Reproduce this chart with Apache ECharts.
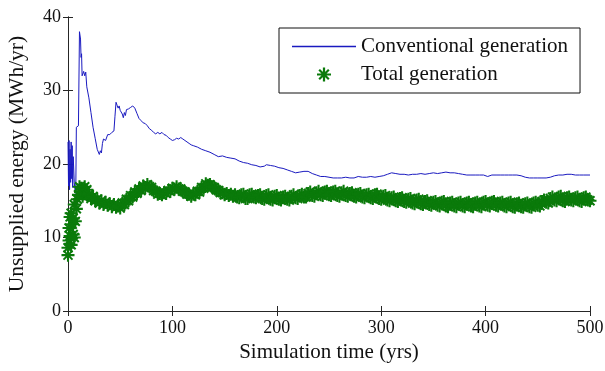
<!DOCTYPE html>
<html>
<head>
<meta charset="utf-8">
<script src="https://cdn.jsdelivr.net/npm/echarts@6/dist/echarts.min.js"></script>
<style>html,body{margin:0;padding:0;background:#fff;}#c{width:605px;height:371px;}</style>
</head>
<body>
<div id="c"></div>
<script>
// Conventional generation (blue line)
var convYears = [0,0.5,1,1.5,2,2.5,3,3.5,4,4.5,5,6,7,7.5,8,10,11,12,12.5,13,13.5,14,15,16,17,18,20,22,24,26,28,30,31,32,33,34,36,38,40,42,44,45,46,47,48,49,50,51,52,53,54,55,56,58,60,62,64,66,68,70,72,74,76,78,80,82,84,86,88,90,92,94,96,98,100,102,104,106,108,110,112,114,116,118,120,124,128,132,136,140,144,148,152,156,160,164,168,172,176,180,184,188,190,194,198,202,206,210,214,218,222,226,230,234,238,242,246,250,254,258,262,266,270,274,278,282,286,290,294,298,302,306,310,314,318,322,326,330,334,338,342,346,350,354,358,362,366,370,374,378,382,386,390,394,398,402,406,410,414,418,422,426,430,434,438,442,446,450,454,458,462,466,470,474,478,482,486,490,494,500];
var convGen = [23,17,23.2,16.5,22,17.5,23,18,22.5,16.8,21,17.5,16,17,25,25.2,38,37,34.5,35,32,31.8,32.6,32,32.5,30.5,29,27,25,23.5,22,21.3,21.8,21.5,22.8,23.4,23.2,24,24,24.3,24.5,26.5,28.4,28,27.6,27.9,27.3,27.5,26.8,26.3,27,26.6,27.4,27.5,27.7,27.9,27.6,26.9,26.2,25.9,25.6,25.5,25.2,24.8,24.6,24.3,24.1,24.3,24.1,24.3,24,23.9,23.6,23.4,23.2,23.3,23.5,23.4,23.6,23.4,23.2,23.0,22.8,22.6,22.5,22.3,22.0,21.8,21.6,21.3,21.0,21.1,20.9,20.8,20.7,20.4,20.2,20.1,19.9,19.8,19.6,19.7,19.9,19.8,19.7,19.5,19.4,19.2,19.0,18.8,18.9,19.0,19.0,18.7,18.5,18.3,18.3,18.2,18.1,18.1,18.1,18.2,18.1,18.1,18.3,18.2,18.2,18.3,18.2,18.3,18.4,18.6,18.8,18.7,18.6,18.6,18.5,18.6,18.6,18.7,18.6,18.7,18.8,18.7,18.8,18.9,18.8,18.8,18.7,18.6,18.5,18.5,18.5,18.5,18.5,18.3,18.5,18.5,18.5,18.5,18.5,18.5,18.5,18.4,18.2,18.1,18.1,18.1,18.1,18.1,18.2,18.4,18.5,18.5,18.6,18.6,18.5,18.5,18.5,18.5];
// Total generation (green asterisks)
var totalYears = [0,0,1,1,2,2,3,3,4,5,5,6,6,7,8,9,10,11,12,13,14,15,16,17,18,19,
  20,22,24,26,28,30,32,34,36,38,40,42,44,46,48,50,52,54,56,58,60,62,64,66,68,70,72,74,76,78,80,82,84,86,88,90,92,94,96,98,100,102,104,106,108,110,112,114,116,118,120,122,124,126,128,130,132,134,136,138,140,142,144,146,148,150,152,154,156,158,160,
  162,164,166,168,170,172,174,176,178,180,
  182,184,186,188,190,192,194,196,198,200,
  202,204,206,208,210,212,214,216,218,220,
  222,224,226,228,230,232,234,236,238,240,
  242,244,246,248,250,252,254,256,258,260,
  262,264,266,268,270,272,274,276,278,280,
  282,284,286,288,290,292,294,296,298,300,
  302,304,306,308,310,312,314,316,318,320,
  322,324,326,328,330,332,334,336,338,340,
  342,344,346,348,350,352,354,356,358,360,
  362,364,366,368,370,372,374,376,378,380,
  382,384,386,388,390,392,394,396,398,400,
  402,404,406,408,410,412,414,416,418,420,
  422,424,426,428,430,432,434,436,438,440,
  442,444,446,448,450,452,454,456,458,460,
  462,464,466,468,470,472,474,476,478,480,
  482,484,486,488,490,492,494,496,498,500];
var totalGen = [7.6,8.6,9.6,11.3,12.8,10.2,13.3,9.0,11.8,10.4,12.6,14.5,10.0,12.2,13.9,15.2,15.8,16.9,16.2,16.7,15.6,16.3,16.9,16.0,16.5,15.7,
  15.9,15.3,15.6,15.0,15.2,14.7,15.0,14.5,14.8,14.4,
  14.6,14.2,14.5,14.1,14.3,14.0,14.7,14.5,15.2,15.0,
  15.7,15.5,16.2,16.0,16.6,16.4,17.0,16.8,17.2,16.9,
  16.8,16.4,16.3,15.9,16.0,15.8,16.1,16.0,16.4,16.3,
  16.7,16.6,16.9,16.6,16.6,16.3,16.2,15.9,15.9,15.6,
  15.9,15.8,16.3,16.2,16.8,16.7,17.3,17.1,17.2,16.9,
  16.8,16.5,16.4,16.1,16.1,15.8,16.0,15.7,15.9,15.6,
  15.8,
  15.5,15.4,15.8,15.9,15.3,15.3,15.8,15.9,15.5,15.4,
  15.7,15.8,15.3,15.2,15.7,15.8,15.2,15.1,15.6,15.7,
  15.2,15.1,15.5,15.6,15.2,15.1,15.6,15.8,15.4,15.3,
  15.7,15.9,15.5,15.5,16.0,16.2,15.7,15.6,16.1,16.3,
  15.8,15.7,16.2,16.3,15.8,15.7,16.2,16.3,15.7,15.6,
  16.1,16.3,15.7,15.6,16.0,16.1,15.6,15.5,15.9,16.0,
  15.5,15.4,15.8,15.9,15.4,15.3,15.8,15.9,15.3,15.2,
  15.6,15.7,15.1,15.0,15.4,15.5,15.0,14.9,15.3,15.4,
  14.9,14.8,15.2,15.3,14.7,14.6,15.1,15.2,14.6,14.5,
  14.9,15.0,14.5,14.4,14.8,14.9,14.4,14.3,14.8,14.9,
  14.3,14.2,14.7,14.8,14.3,14.2,14.7,14.8,14.3,14.2,
  14.7,14.8,14.3,14.2,14.7,14.8,14.3,14.2,14.8,14.9,
  14.4,14.3,14.8,14.9,14.4,14.3,14.7,14.8,14.3,14.2,
  14.7,14.8,14.2,14.1,14.6,14.7,14.2,14.1,14.6,14.7,
  14.2,14.1,14.7,14.8,14.4,14.3,14.9,15.1,14.8,14.7,
  15.3,15.5,15.1,15.0,15.5,15.6,15.0,14.9,15.4,15.5,
  15.1,15.0,15.4,15.5,15.0,14.9,15.4,15.5,15.1,15.0];
var xTicks = [0,100,200,300,400,500];
var yTicks = [0,10,20,30,40];

var convData = convYears.map(function(x,i){return [x, convGen[i]];});
var totalData = totalYears.map(function(x,i){return [x, totalGen[i]];});

var FONT = 'Liberation Serif';
var AX = '#262626';
var star = 'path://M8.4,0L11.6,0L11.6,20L8.4,20Z M0,8.4L20,8.4L20,11.6L0,11.6Z M2,4.2L4.2,2L18,15.8L15.8,18Z M15.8,2L18,4.2L4.2,18L2,15.8Z';
var lineIcon = 'path://M0,0L64,0L64,1.3L0,1.3Z';

var chart = echarts.init(document.getElementById('c'), null, {renderer:'canvas'});
var tickStyle = {show:true, inside:true, length:5, lineStyle:{color:AX, width:1}};
chart.setOption({
  animation:false,
  backgroundColor:'#fff',
  grid:{left:68, top:17, right:15, bottom:60, show:false, containLabel:false, outerBoundsMode:'none'},
  legend:{
    left:279, top:28, orient:'vertical',
    itemWidth:64, itemHeight:14, itemGap:7,
    padding:[8,12,8,13],
    borderColor:'#111', borderWidth:1, backgroundColor:'#fff',
    textStyle:{fontFamily:FONT, fontSize:21, color:'#111'},
    data:[{name:'Conventional generation', icon:lineIcon},{name:'Total generation'}]
  },
  xAxis:[{
    type:'value', min:0, max:500, interval:100, position:'bottom',
    name:'Simulation time (yrs)', nameLocation:'middle', nameGap:28,
    nameTextStyle:{fontFamily:FONT, fontSize:21, color:'#111'},
    axisLine:{show:true, lineStyle:{color:AX, width:1}},
    axisTick:tickStyle,
    axisLabel:{fontFamily:FONT, fontSize:18, color:'#111', margin:8,
      formatter:function(v){return xTicks.indexOf(v)>=0 ? String(v) : '';}},
    splitLine:{show:false}
  },{
    type:'value', min:0, max:500, interval:100, position:'top',
    axisLine:{show:true, lineStyle:{color:AX, width:1}},
    axisTick:tickStyle, axisLabel:{show:false}, splitLine:{show:false}
  }],
  yAxis:[{
    type:'value', min:0, max:40, interval:10, position:'left',
    name:'Unsupplied energy (MWh/yr)', nameLocation:'middle', nameGap:40,
    nameTextStyle:{fontFamily:FONT, fontSize:21.5, color:'#111'},
    axisLine:{show:true, lineStyle:{color:AX, width:1}},
    axisTick:tickStyle,
    axisLabel:{fontFamily:FONT, fontSize:18, color:'#111', margin:7,
      formatter:function(v){return yTicks.indexOf(v)>=0 ? String(v) : '';}},
    splitLine:{show:false}
  },{
    type:'value', min:0, max:40, interval:10, position:'right',
    axisLine:{show:true, lineStyle:{color:AX, width:1}},
    axisTick:tickStyle, axisLabel:{show:false}, splitLine:{show:false}
  }],
  series:[{
    name:'Conventional generation', type:'line', data:convData,
    symbol:'none', showSymbol:false,
    lineStyle:{color:'#1a1ac0', width:1},
    itemStyle:{color:'#1a1ac0'},
    z:2
  },{
    name:'Total generation', type:'scatter', data:totalData,
    symbol:star, symbolSize:13,
    itemStyle:{color:'#0a7a0a', opacity:1},
    z:3
  }]
});
</script>
</body>
</html>
